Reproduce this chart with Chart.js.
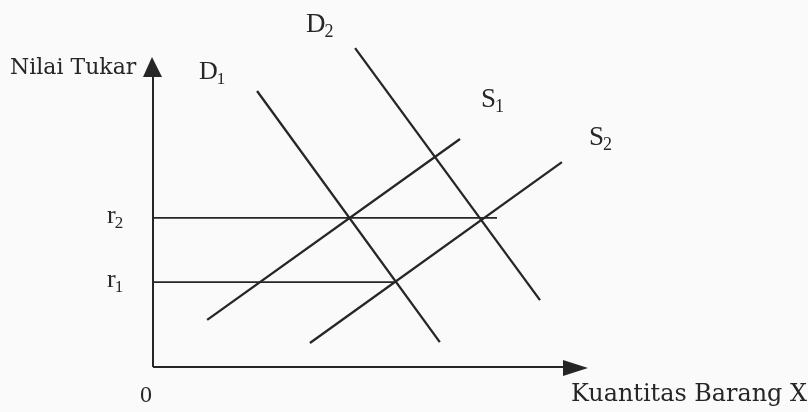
<!DOCTYPE html>
<html>
<head>
<meta charset="utf-8">
<script src="https://cdn.jsdelivr.net/npm/chart.js@4"></script>
<style>
  html, body { margin: 0; padding: 0; background: #fafafa; }
</style>
</head>
<body>
<canvas id="myChart" width="808" height="412"></canvas>
<script>
// curves (x: quantity, y: exchange rate, arbitrary units)
var curveNames = ['D1', 'D2', 'S1', 'S2'];
var d1Points = [{x: 2.42, y: 9.2}, {x: 6.67, y: 0.83}];
var d2Points = [{x: 4.70, y: 10.63}, {x: 9.0, y: 2.23}];
var s1Points = [{x: 1.26, y: 1.57}, {x: 7.14, y: 7.6}];
var s2Points = [{x: 3.65, y: 0.8}, {x: 9.51, y: 6.83}];

// horizontal rate lines
var rateNames = ['r1', 'r2'];
var rateValues = [2.83, 4.97];
var rateEnds = [5.63, 8.0];

var ink = '#262626';
var serif = '"Liberation Serif", "DejaVu Serif", serif';

function sub(ctx, main, s, x, y, size) {
  ctx.font = size + 'px ' + serif;
  ctx.fillText(main, x, y);
  var w = ctx.measureText(main).width;
  ctx.font = Math.round(size * 0.66) + 'px ' + serif;
  ctx.fillText(s, x + w - 1, y + size * 0.2);
}

var datasets = [];
[d1Points, d2Points, s1Points, s2Points].forEach(function(pts, i) {
  datasets.push({label: curveNames[i], data: pts});
});
for (var i = 0; i < rateNames.length; i++) {
  datasets.push({label: rateNames[i], data: [{x: 0, y: rateValues[i]}, {x: rateEnds[i], y: rateValues[i]}], borderWidth: 1.8});
}
datasets.forEach(function(d) {
  d.showLine = true;
  d.borderColor = ink;
  d.borderWidth = d.borderWidth || 2.3;
  d.pointRadius = 0;
  d.fill = false;
});

var diagram = {
  id: 'diagram',
  beforeDraw: function(chart) {
    var c = chart.ctx;
    c.save();
    c.fillStyle = '#fafafa';
    c.fillRect(0, 0, chart.width, chart.height);
    c.restore();
  },
  afterDraw: function(chart) {
    var c = chart.ctx;
    var xs = chart.scales.x, ys = chart.scales.y;
    var ox = xs.getPixelForValue(0), oy = ys.getPixelForValue(0);
    c.save();
    c.strokeStyle = ink;
    c.fillStyle = ink;
    c.lineWidth = 2;
    // axes
    c.beginPath();
    c.moveTo(ox, oy); c.lineTo(ox, 74);
    c.moveTo(ox, oy); c.lineTo(566, oy);
    c.stroke();
    c.beginPath();
    c.moveTo(ox - 1, 57); c.lineTo(ox + 9, 77); c.lineTo(ox - 10, 77); c.closePath();
    c.fill();
    c.beginPath();
    c.moveTo(588, oy + 1); c.lineTo(563, oy - 7); c.lineTo(563, oy + 9); c.closePath();
    c.fill();

    c.textBaseline = 'alphabetic';
    c.textAlign = 'left';
    c.font = '22px "DejaVu Serif", serif';
    c.fillText('Nilai Tukar', 10, 74, 132);
    c.font = '24px "DejaVu Serif", serif';
    c.fillText('Kuantitas Barang X', 571, 401, 236);
    c.font = '24px ' + serif;
    c.fillText('0', 140, 402);

    // rate tick labels
    for (var i = 0; i < rateNames.length; i++) {
      sub(c, rateNames[i][0], rateNames[i][1], 107, ys.getPixelForValue(rateValues[i]) + 5, 26);
    }
    // curve labels
    sub(c, 'D', '2', 306, 32, 27);
    sub(c, 'D', '1', 199, 79, 26);
    sub(c, 'S', '1', 481, 107, 27);
    sub(c, 'S', '2', 589, 145, 27);
    c.restore();
  }
};

new Chart(document.getElementById('myChart').getContext('2d'), {
  type: 'scatter',
  data: {datasets: datasets},
  options: {
    responsive: false,
    animation: false,
    layout: {padding: {left: 153, right: 225, top: 37, bottom: 45}},
    plugins: {legend: {display: false}, tooltip: {enabled: false}},
    scales: {
      x: {type: 'linear', min: 0, max: 10, display: false},
      y: {type: 'linear', min: 0, max: 11, display: false}
    }
  },
  plugins: [diagram]
});
</script>
</body>
</html>
